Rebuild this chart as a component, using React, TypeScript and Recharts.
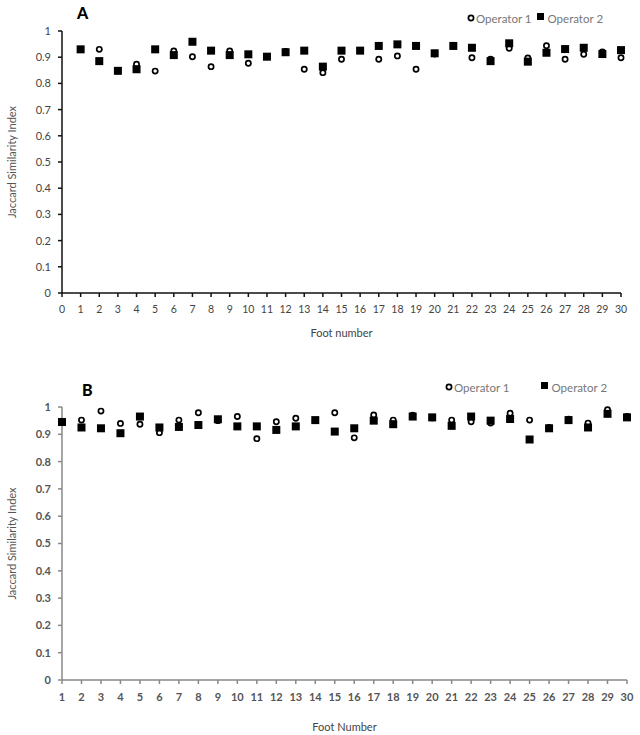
import React from 'react';
import { ScatterChart, Scatter, XAxis, YAxis, Label } from 'recharts';

// foot numbers and Jaccard values
const feet = [1, 2, 3, 4, 5, 6, 7, 8, 9, 10, 11, 12, 13, 14, 15, 16, 17, 18, 19, 20, 21, 22, 23, 24, 25, 26, 27, 28, 29, 30];

const op1A = [0.93, 0.93, 0.848, 0.873, 0.847, 0.924, 0.902, 0.864, 0.924, 0.877, 0.902, 0.922, 0.854, 0.841, 0.892,
  0.925, 0.892, 0.905, 0.854, 0.912, 0.943, 0.898, 0.892, 0.934, 0.897, 0.944, 0.892, 0.911, 0.92, 0.898];
const op2A = [0.93, 0.885, 0.848, 0.854, 0.93, 0.908, 0.959, 0.925, 0.908, 0.911, 0.902, 0.919, 0.925, 0.864, 0.925,
  0.925, 0.943, 0.949, 0.943, 0.915, 0.943, 0.936, 0.885, 0.953, 0.883, 0.917, 0.931, 0.936, 0.912, 0.927];

const op1B = [0.945, 0.952, 0.985, 0.94, 0.937, 0.906, 0.952, 0.979, 0.95, 0.965, 0.884, 0.946, 0.959, 0.95, 0.979,
  0.887, 0.971, 0.952, 0.97, 0.96, 0.952, 0.946, 0.941, 0.977, 0.952, 0.925, 0.955, 0.941, 0.99, 0.965];
const op2B = [0.945, 0.925, 0.922, 0.904, 0.965, 0.925, 0.927, 0.934, 0.955, 0.929, 0.929, 0.916, 0.929, 0.952, 0.91,
  0.922, 0.95, 0.937, 0.965, 0.962, 0.931, 0.965, 0.95, 0.956, 0.881, 0.922, 0.952, 0.925, 0.975, 0.962];

const xTicksA = [0, 1, 2, 3, 4, 5, 6, 7, 8, 9, 10, 11, 12, 13, 14, 15, 16, 17, 18, 19, 20, 21, 22, 23, 24, 25, 26, 27, 28, 29, 30];
const xTicksB = [1, 2, 3, 4, 5, 6, 7, 8, 9, 10, 11, 12, 13, 14, 15, 16, 17, 18, 19, 20, 21, 22, 23, 24, 25, 26, 27, 28, 29, 30];
const yTicks = [0, 0.1, 0.2, 0.3, 0.4, 0.5, 0.6, 0.7, 0.8, 0.9, 1];

const toRows = (vals: number[]) => feet.map((f, i) => ({ foot: f, v: vals[i] }));

const FONT = 'Lato, "Open Sans", sans-serif';

const Ring = (p: any) => (
  <circle cx={p.cx} cy={p.cy} r={2.6} fill="#fff" stroke="#000" strokeWidth={1.7} />
);
const Block = (p: any) => (
  <rect x={p.cx - 4} y={p.cy - 4} width={8} height={8} fill="#000" />
);

const yTitle = (x: number, color: string) => (props: any) => {
  const vb = props.viewBox;
  const cy = vb.y + vb.height / 2;
  return (
    <text x={x} y={cy} transform={`rotate(-90 ${x} ${cy})`} textAnchor="middle" dominantBaseline="middle"
      fontSize={11} fill={color} fontFamily={FONT}>
      Jaccard Similarity Index
    </text>
  );
};

const LegendRow = ({ top, left, gap }: { top: number; left: number; gap: number }) => (
  <div style={{ position: 'absolute', top, left, display: 'flex', alignItems: 'center', fontFamily: FONT, fontSize: 11.5, color: '#777' }}>
    <svg width={8} height={12}><circle cx={4} cy={5} r={2.6} fill="#fff" stroke="#000" strokeWidth={1.7} /></svg>
    <span style={{ marginLeft: 1 }}>Operator 1</span>
    <svg width={14} height={12} style={{ marginLeft: gap }}><rect x={3} y={0} width={7} height={7} fill="#000" /></svg>
    <span>Operator 2</span>
  </div>
);

const Panel = (props: {
  top: number; height: number; marginTop: number; marginRight: number; xHeight: number;
  ticks: number[]; domain: [number, number]; op1: number[]; op2: number[];
  axisColor: string; textColor: string; xTitle: string; xTitleOffset: number; bold: boolean;
}) => {
  const tickStyle = { fontSize: props.bold ? 11 : 10.5, fill: props.textColor, fontFamily: FONT, fontWeight: props.bold ? 700 : 400 };
  return (
    <div style={{ position: 'absolute', top: props.top, left: 0 }}>
      <ScatterChart width={640} height={props.height}
        margin={{ top: props.marginTop, right: props.marginRight, bottom: 0, left: 0 }}>
        <XAxis type="number" dataKey="foot" domain={props.domain} ticks={props.ticks} interval={0}
          height={props.xHeight} stroke={props.axisColor} strokeWidth={1.5} tickSize={4} tickMargin={9}
          tick={tickStyle} tickLine={{ stroke: props.axisColor }}>
          <Label value={props.xTitle} position="insideBottom" offset={props.xTitleOffset}
            style={{ fontSize: 11, fill: '#444', fontFamily: FONT }} />
        </XAxis>
        <YAxis type="number" dataKey="v" domain={[0, 1]} ticks={yTicks} interval={0} width={62}
          stroke={props.axisColor} strokeWidth={1.5} tickSize={4} tickMargin={7}
          tick={{ ...tickStyle, fontSize: 11 }} tickLine={{ stroke: props.axisColor }}>
          <Label content={yTitle(13, '#555')} />
        </YAxis>
        <Scatter name="Operator 1" data={toRows(props.op1)} shape={Ring} isAnimationActive={false} />
        <Scatter name="Operator 2" data={toRows(props.op2)} shape={Block} isAnimationActive={false} />
      </ScatterChart>
    </div>
  );
};

export default function App() {
  return (
    <div style={{ position: 'absolute', top: 0, left: 0, width: 640, height: 735, background: '#fff' }}>
      <Panel top={0} height={345} marginTop={31} marginRight={19} xHeight={52}
        ticks={xTicksA} domain={[0, 30]} op1={op1A} op2={op2A}
        axisColor="#111" textColor="#444" xTitle="Foot number" xTitleOffset={8} bold={false} />
      <Panel top={360} height={375} marginTop={47} marginRight={13} xHeight={55}
        ticks={xTicksB} domain={[1, 30]} op1={op1B} op2={op2B}
        axisColor="#888" textColor="#555" xTitle="Foot Number" xTitleOffset={4} bold={true} />
      <div style={{ position: 'absolute', top: 3, left: 77, fontFamily: FONT, fontWeight: 900, fontSize: 16 }}>A</div>
      <div style={{ position: 'absolute', top: 380, left: 82, fontFamily: FONT, fontWeight: 900, fontSize: 16 }}>B</div>
      <LegendRow top={12} left={467} gap={2} />
      <LegendRow top={381} left={445} gap={28} />
    </div>
  );
}
